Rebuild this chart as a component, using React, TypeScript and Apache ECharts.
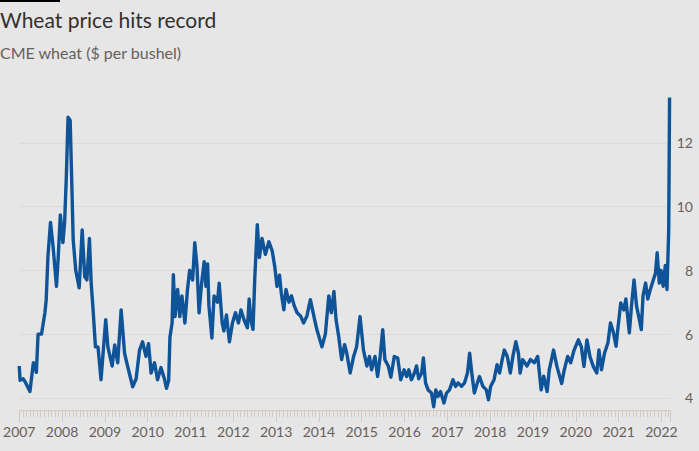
import React, { useEffect, useRef } from "react";
import * as echarts from "echarts";

// Decimal-year dates and CME wheat prices ($ per bushel)
const dates: number[] = [
  2007.00, 2007.02, 2007.09, 2007.14, 2007.25, 2007.33, 2007.40, 2007.44, 2007.52, 2007.60,
  2007.63, 2007.67, 2007.73, 2007.79, 2007.87, 2007.91, 2007.96, 2008.02, 2008.06, 2008.10,
  2008.14, 2008.19, 2008.23, 2008.26, 2008.32, 2008.40, 2008.47, 2008.53, 2008.58, 2008.64,
  2008.68, 2008.72, 2008.78, 2008.84, 2008.91, 2009.02, 2009.07, 2009.17, 2009.23, 2009.30,
  2009.38, 2009.46, 2009.53, 2009.65, 2009.73, 2009.81, 2009.88, 2009.96, 2010.02, 2010.08,
  2010.16, 2010.23, 2010.31, 2010.39, 2010.44, 2010.49, 2010.52, 2010.57, 2010.60, 2010.64,
  2010.70, 2010.75, 2010.80, 2010.87, 2010.93, 2010.98, 2011.05, 2011.10, 2011.15, 2011.20,
  2011.26, 2011.32, 2011.36, 2011.40, 2011.43, 2011.50, 2011.55, 2011.63, 2011.67, 2011.74,
  2011.78, 2011.84, 2011.91, 2011.98, 2012.05, 2012.12, 2012.18, 2012.25, 2012.33, 2012.37,
  2012.41, 2012.46, 2012.50, 2012.56, 2012.61, 2012.67, 2012.75, 2012.83, 2012.91, 2012.97,
  2013.02, 2013.08, 2013.12, 2013.18, 2013.23, 2013.30, 2013.36, 2013.42, 2013.49, 2013.57,
  2013.64, 2013.72, 2013.80, 2013.88, 2013.95, 2014.07, 2014.15, 2014.23, 2014.29, 2014.35,
  2014.40, 2014.46, 2014.53, 2014.60, 2014.65, 2014.73, 2014.81, 2014.88, 2014.96, 2015.04,
  2015.12, 2015.18, 2015.23, 2015.31, 2015.37, 2015.43, 2015.49, 2015.54, 2015.62, 2015.68,
  2015.76, 2015.84, 2015.91, 2015.99, 2016.05, 2016.10, 2016.16, 2016.23, 2016.28, 2016.33,
  2016.40, 2016.44, 2016.49, 2016.55, 2016.63, 2016.68, 2016.73, 2016.78, 2016.84, 2016.92,
  2016.98, 2017.05, 2017.13, 2017.19, 2017.25, 2017.33, 2017.40, 2017.47, 2017.52, 2017.57,
  2017.63, 2017.70, 2017.75, 2017.83, 2017.91, 2017.96, 2018.01, 2018.09, 2018.16, 2018.22,
  2018.28, 2018.33, 2018.40, 2018.47, 2018.53, 2018.60, 2018.66, 2018.70, 2018.76, 2018.86,
  2018.94, 2019.03, 2019.11, 2019.19, 2019.25, 2019.33, 2019.38, 2019.48, 2019.56, 2019.67,
  2019.73, 2019.81, 2019.88, 2019.96, 2020.06, 2020.13, 2020.19, 2020.26, 2020.33, 2020.41,
  2020.49, 2020.54, 2020.60, 2020.67, 2020.75, 2020.81, 2020.88, 2020.94, 2020.98, 2021.05,
  2021.12, 2021.17, 2021.25, 2021.30, 2021.36, 2021.42, 2021.47, 2021.53, 2021.57, 2021.63,
  2021.68, 2021.74, 2021.81, 2021.86, 2021.90, 2021.95, 2021.99, 2022.04, 2022.09, 2022.13,
  2022.17, 2022.19,
];

const prices: number[] = [
  5.0, 4.55, 4.6, 4.5, 4.2, 5.1, 4.8, 6.0, 6.0, 6.67,
  7.08, 8.43, 9.5, 8.75, 7.5, 8.4, 9.74, 8.87, 9.5, 10.94,
  12.8, 12.7, 10.6, 8.96, 8.0, 7.45, 9.27, 7.8, 7.7, 9.0,
  7.6, 6.86, 5.6, 5.6, 4.57, 6.45, 5.6, 5.0, 5.66, 5.1,
  6.76, 5.4, 5.0, 4.35, 4.6, 5.5, 5.76, 5.3, 5.7, 4.78,
  5.1, 4.57, 4.95, 4.6, 4.3, 4.55, 5.9, 6.35, 7.86, 6.55,
  7.4, 6.55, 7.2, 6.35, 7.4, 8.0, 7.7, 8.87, 8.15, 6.67,
  7.6, 8.27, 7.5, 8.2, 6.9, 5.88, 7.2, 7.0, 7.6, 6.35,
  6.1, 6.6, 5.76, 6.35, 6.67, 6.35, 6.76, 6.45, 6.2, 7.1,
  6.45, 6.15, 7.7, 9.43, 8.4, 9.0, 8.5, 8.9, 8.6, 8.1,
  7.5, 7.85, 7.3, 6.76, 7.4, 7.0, 7.2, 6.9, 6.67, 6.57,
  6.35, 6.57, 7.08, 6.57, 6.15, 5.6, 6.0, 7.2, 6.67, 7.34,
  6.45, 5.94, 5.2, 5.67, 5.4, 4.78, 5.3, 5.6, 6.55, 5.5,
  5.0, 5.3, 4.88, 5.3, 4.67, 5.3, 6.14, 5.2, 5.0, 4.65,
  5.3, 5.25, 4.57, 4.88, 4.67, 4.88, 4.57, 4.78, 5.0, 4.6,
  4.78, 5.25, 4.47, 4.25, 4.15, 3.72, 4.25, 4.04, 4.2, 3.84,
  4.15, 4.25, 4.57, 4.36, 4.47, 4.36, 4.47, 4.78, 5.4, 4.78,
  4.15, 4.47, 4.67, 4.36, 4.25, 3.94, 4.36, 4.57, 5.04, 4.78,
  5.2, 5.5, 5.3, 4.78, 5.3, 5.76, 5.4, 4.78, 5.2, 5.0,
  5.2, 5.1, 5.3, 4.25, 4.68, 4.2, 4.88, 5.5, 4.98, 4.45,
  4.88, 5.3, 5.1, 5.5, 5.82, 5.6, 4.98, 5.82, 5.3, 4.98,
  4.78, 5.5, 4.88, 5.4, 5.72, 6.35, 6.04, 5.62, 6.14, 6.98,
  6.76, 7.1, 6.04, 6.87, 7.7, 6.87, 6.55, 6.14, 7.2, 7.6,
  7.1, 7.4, 7.7, 7.9, 8.55, 7.6, 8.0, 7.5, 8.15, 7.4,
  9.27, 13.42,
];

const yTicks: number[] = [4, 6, 8, 10, 12];

const TITLE = "Wheat price hits record";
const SUBTITLE = "CME wheat ($ per bushel)";

const FONT = "Lato, 'Noto Sans', sans-serif";
const BG = "#e6e6e6";
const TEXT_DARK = "#33302e";
const TEXT_GREY = "#66605c";
const GRID = "#dfdad7";
const TICK = "#d2c9c3";
const LINE = "#0f5499";

export default function App() {
  const ref = useRef<HTMLDivElement>(null);

  useEffect(() => {
    if (!ref.current) return;
    const chart = echarts.init(ref.current, undefined, { renderer: "svg" });
    const data = dates.map((d, i) => [d, prices[i]]);
    chart.setOption({
      animation: false,
      backgroundColor: BG,
      textStyle: { fontFamily: FONT },
      grid: { left: 16, right: 29, top: 79, bottom: 41, containLabel: false },
      graphic: [
        { type: "rect", left: 0, top: 0, shape: { width: 60, height: 2 }, style: { fill: "#000" } },
        {
          type: "text",
          left: 0,
          top: 9,
          style: { text: TITLE, fill: TEXT_DARK, fontSize: 21, fontFamily: FONT },
        },
        {
          type: "text",
          left: 0,
          top: 44,
          style: { text: SUBTITLE, fill: TEXT_GREY, fontSize: 16, fontFamily: FONT },
        },
      ],
      xAxis: {
        type: "value",
        min: 2007,
        max: 2022.2,
        interval: 1,
        axisLine: { show: true, lineStyle: { color: TICK, width: 1 } },
        axisTick: { show: true, length: 12, lineStyle: { color: TICK, width: 1 } },
        minorTick: { show: true, splitNumber: 12, length: 7, lineStyle: { color: TICK, width: 1 } },
        splitLine: { show: false },
        axisLabel: {
          color: TEXT_GREY,
          fontSize: 14,
          fontFamily: FONT,
          margin: 14,
          showMaxLabel: false,
          formatter: (v: number) => (Math.abs(v - Math.round(v)) < 1e-6 ? String(Math.round(v)) : ""),
        },
      },
      yAxis: {
        type: "value",
        position: "right",
        min: 3.62,
        max: 14,
        axisLine: { show: false },
        axisTick: { show: false, customValues: yTicks },
        axisLabel: {
          customValues: yTicks,
          color: TEXT_GREY,
          fontSize: 14,
          fontFamily: FONT,
          align: "right",
          margin: 23,
        },
        splitLine: { show: true, lineStyle: { color: GRID, width: 1 } },
      },
      series: [
        {
          type: "line",
          data,
          showSymbol: false,
          symbol: "none",
          lineStyle: { color: LINE, width: 3.4, join: "round" },
          itemStyle: { color: LINE },
        },
      ],
    });
    return () => chart.dispose();
  }, []);

  return (
    <div
      ref={ref}
      style={{ position: "fixed", left: 0, top: 0, width: 699, height: 451, background: BG }}
    />
  );
}
